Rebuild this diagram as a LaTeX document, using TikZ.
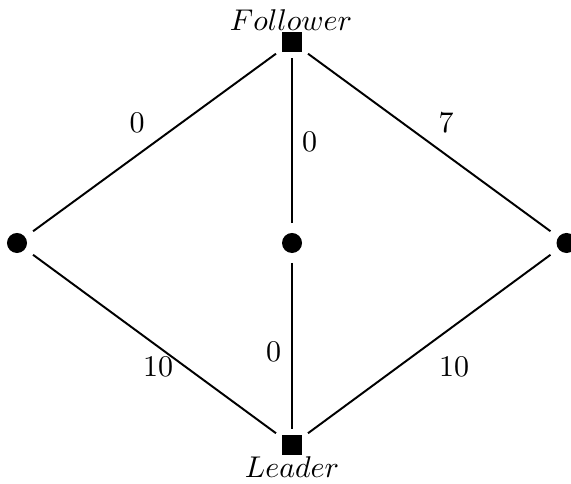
\documentclass[tikz,border=0pt]{standalone}
\begin{document}
\begin{tikzpicture}[x=0.3333pt,y=-0.3333pt,
  sq/.style={rectangle,fill=black,draw=none,minimum size=6.67pt,inner sep=0pt,outer sep=2pt},
  dot/.style={circle,fill=black,draw=none,minimum size=6.67pt,inner sep=0pt,outer sep=3.3pt},
  edge/.style={line width=0.65pt},
  lbl/.style={inner sep=0pt,font=\normalsize}]
\useasboundingbox (0,0) rectangle (571,484);
\node[sq] (F) at (292,42) {};
\node[sq] (L) at (292,445) {};
\node[dot] (A) at (17,243) {};
\node[dot] (B) at (292,243) {};
\node[dot] (C) at (566.5,243) {};
\node[lbl] (tF) at (291,20) {$Follower$};
\node[lbl] (tL) at (292,467) {$Leader$};
\draw[edge] (A) -- (F);
\draw[edge] (B) -- (F);
\draw[edge] (C) -- (F);
\draw[edge] (A) -- (L);
\draw[edge] (B) -- (L);
\draw[edge] (C) -- (L);
\node[lbl] (w1) at (137,123) {0};
\node[lbl] (w2) at (309.5,142) {0};
\node[lbl] (w3) at (446,123) {7};
\node[lbl] (w4) at (158,367) {10};
\node[lbl] (w5) at (273.5,352) {0};
\node[lbl] (w6) at (454,367) {10};
\end{tikzpicture}
\end{document}
